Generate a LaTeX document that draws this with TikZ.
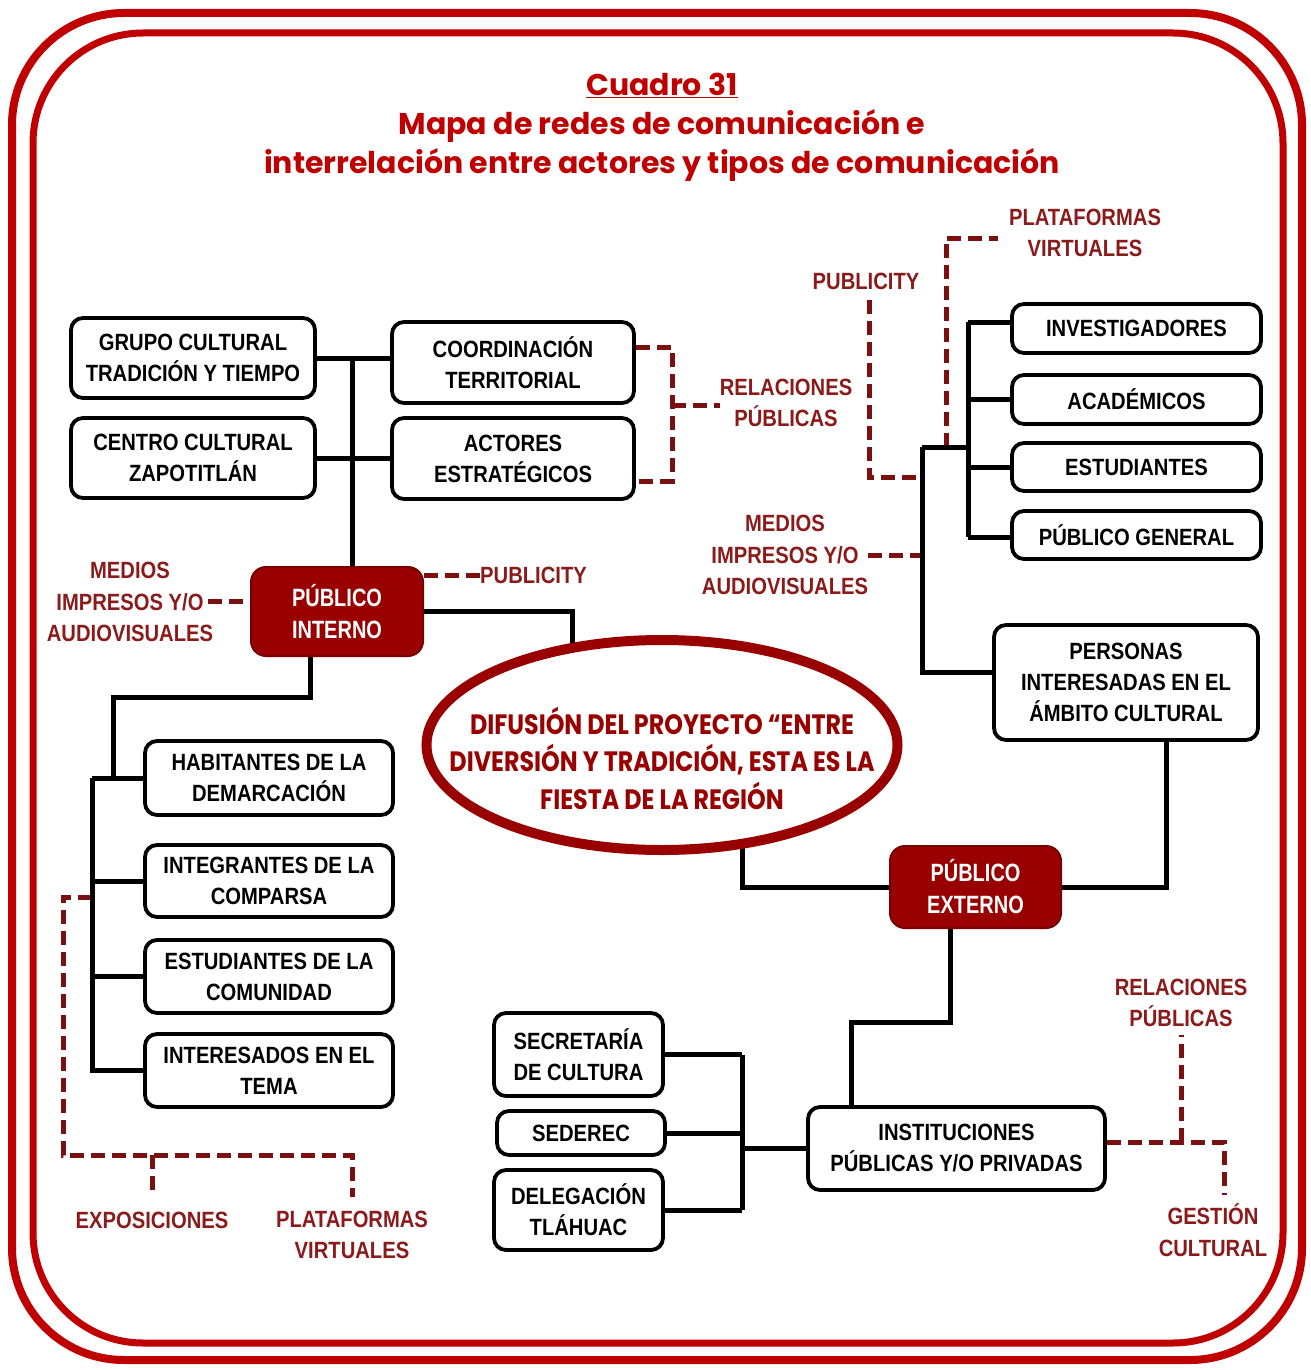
\documentclass[tikz,border=0pt]{standalone}
\usepackage{fontspec}
\setmainfont{Liberation Sans}
\newfontfamily\boxfont[FakeStretch=0.86]{Liberation Sans}
\newfontfamily\hubfont[FakeStretch=0.8]{Liberation Sans}
\newfontfamily\titlefont{Poppins}
\newfontfamily\ellfont[FakeStretch=0.85]{Poppins}
\usetikzlibrary{shapes.geometric,backgrounds}
\definecolor{frame}{HTML}{C00000}
\definecolor{wine}{HTML}{990000}
\definecolor{labelred}{HTML}{8B1A1A}
\definecolor{dashred}{HTML}{7A1010}
\begin{document}
\begin{tikzpicture}[x=1pt,y=-1pt,
  actor/.style={draw=black, line width=3.8pt, rounded corners=12pt, fill=white,
    align=center, inner sep=0pt,
    font=\boxfont\bfseries\fontsize{23.5}{31}\selectfont},
  hub/.style={draw=wine!80!black, line width=2pt, rounded corners=15pt, fill=wine,
    text=white, align=center, inner sep=0pt,
    font=\hubfont\bfseries\fontsize{25}{32}\selectfont},
  link/.style={draw=black, line width=5pt},
  medium/.style={draw=dashred, line width=5pt, dash pattern=on 14pt off 7pt},
  lbl/.style={text=labelred, align=center, inner sep=0pt,
    font=\boxfont\bfseries\fontsize{23.5}{31.5}\selectfont}
]
\useasboundingbox (0,0) rectangle (1310,1370);

% double frame
\draw[frame, line width=8pt, rounded corners=112pt] (12,13) rectangle (1302,1360);
\draw[frame, line width=7pt, rounded corners=110pt] (33,33) rectangle (1283,1343);

% title
\node[font=\titlefont\bfseries\fontsize{30}{39}\selectfont, text=frame, align=center]
  (title) at (662,127)
  {\underline{Cuadro 31}\\Mapa de redes de comunicación e\\interrelación entre actores y tipos de comunicación};

% central idea: outline and its text
\node[ellipse, draw=wine, line width=10pt, fill=white, minimum width=471pt,
  minimum height=210pt, inner sep=0pt] (ell) at (662,745) {};
\node[text=wine, align=center, inner sep=0pt,
  font=\ellfont\bfseries\fontsize{28}{37.5}\selectfont]
  (elltext) at (662,758)
  {DIFUSIÓN DEL PROYECTO “ENTRE\\DIVERSIÓN Y TRADICIÓN, ESTA ES LA\\FIESTA DE LA REGIÓN};

% internal public
\node[hub, minimum width=172pt, minimum height=89pt] (pint) at (337,611.5) {PÚBLICO\\INTERNO};
\node[actor, minimum width=244pt, minimum height=80pt] (grupo) at (193,358) {GRUPO CULTURAL\\TRADICIÓN Y TIEMPO};
\node[actor, minimum width=244pt, minimum height=80pt] (centro) at (193,458) {CENTRO CULTURAL\\ZAPOTITLÁN};
\node[actor, minimum width=242pt, minimum height=81pt] (coord) at (513,362.5) {COORDINACIÓN\\TERRITORIAL};
\node[actor, minimum width=242pt, minimum height=81pt] (actores) at (513,458.5) {ACTORES\\ESTRATÉGICOS};
\node[actor, minimum width=248pt, minimum height=74pt] (habit) at (269,778) {HABITANTES DE LA\\DEMARCACIÓN};
\node[actor, minimum width=248pt, minimum height=72pt] (integ) at (269,881) {INTEGRANTES DE LA\\COMPARSA};
\node[actor, minimum width=248pt, minimum height=73pt] (estud) at (269,976.5) {ESTUDIANTES DE LA\\COMUNIDAD};
\node[actor, minimum width=248pt, minimum height=73pt] (inter) at (269,1070.5) {INTERESADOS EN EL\\TEMA};

% external public
\node[hub, minimum width=171pt, minimum height=82pt] (pext) at (975.5,887) {PÚBLICO\\EXTERNO};
\node[actor, minimum width=264pt, minimum height=115pt] (pers) at (1126,682.5) {PERSONAS\\INTERESADAS EN EL\\ÁMBITO CULTURAL};
\node[actor, minimum width=249pt, minimum height=49pt] (inv) at (1136.5,328.5) {INVESTIGADORES};
\node[actor, minimum width=249pt, minimum height=49pt] (aca) at (1136.5,399.5) {ACADÉMICOS};
\node[actor, minimum width=249pt, minimum height=48pt] (est) at (1136.5,467) {ESTUDIANTES};
\node[actor, minimum width=249pt, minimum height=48pt] (pub) at (1136.5,535) {PÚBLICO GENERAL};
\node[actor, minimum width=297pt, minimum height=83pt] (inst) at (956.5,1148.5) {INSTITUCIONES\\PÚBLICAS Y/O PRIVADAS};
\node[actor, minimum width=169pt, minimum height=83pt] (secr) at (578.5,1054.5) {SECRETARÍA\\DE CULTURA};
\node[actor, minimum width=168pt, minimum height=44pt] (sede) at (581,1133) {SEDEREC};
\node[actor, minimum width=169pt, minimum height=80pt] (dele) at (578.5,1210) {DELEGACIÓN\\TLÁHUAC};

% communication channels
\node[lbl] (relA) at (786,403) {RELACIONES\\PÚBLICAS};
\node[lbl] (pubA) at (866,281) {PUBLICITY};
\node[lbl] (platA) at (1085,233) {PLATAFORMAS\\VIRTUALES};
\node[lbl] (medA) at (785,555) {MEDIOS\\IMPRESOS Y/O\\AUDIOVISUALES};
\node[lbl] (medB) at (130,602) {MEDIOS\\IMPRESOS Y/O\\AUDIOVISUALES};
\node[lbl, anchor=west] (pubB) at (480,575) {PUBLICITY};
\node[lbl] (expo) at (152,1220) {EXPOSICIONES};
\node[lbl] (platB) at (352,1235) {PLATAFORMAS\\VIRTUALES};
\node[lbl] (relB) at (1181,1003) {RELACIONES\\PÚBLICAS};
\node[lbl] (gest) at (1213,1230) {GESTIÓN\\CULTURAL};

% junction points
\coordinate (spine) at (352,358);
\coordinate (elltop) at (572,650);
\coordinate (pdrop) at (310,611);
\coordinate (ltop) at (113,697);
\coordinate (lbus) at (92,778);
\coordinate (ellbot) at (742,840);
\coordinate (rdrop) at (1166,700);
\coordinate (kneeA) at (950,1022);
\coordinate (kneeB) at (851,1148);
\coordinate (ibus) at (742,1054);
\coordinate (rbus) at (922,447);
\coordinate (rlow) at (922,672);
\coordinate (ubus) at (968,447);
\coordinate (utop) at (968,322);
\coordinate (ubot) at (968,537);
\coordinate (rp1) at (672,347);
\coordinate (rp2) at (672,481);
\coordinate (rpm) at (672,405);
\coordinate (mb) at (208,601);
\coordinate (pu1) at (869,300);
\coordinate (pu2) at (869,477);
\coordinate (pl1) at (946,447);
\coordinate (pl2) at (946,238);
\coordinate (pl3) at (998,238);
\coordinate (lb1) at (92,897);
\coordinate (lb2) at (63,1155);
\coordinate (lb3) at (352,1155);
\coordinate (lb4) at (352,1197);
\coordinate (ex1) at (152,1155);
\coordinate (ex2) at (152,1197);
\coordinate (g1) at (1224,1142);
\coordinate (g2) at (1224,1195);
\coordinate (r1) at (1181,1142);
\coordinate (r2) at (1181,1035);

\begin{pgfonlayer}{background}
  % dashed channels
  \draw[medium] (coord.east |- rp1) -- (rp1) -- (rp2) -- (actores.east |- rp2);
  \draw[medium] (rpm) -- (rpm -| relA.west);
  \draw[medium] (pint.east |- pubB) -- (pubB.west);
  \draw[medium] (mb) -- (mb -| pint.west);
  \draw[medium] (medA.east) -- (medA.east -| rbus);
  \draw[medium] (pu1) -- (pu2) -- (pu2 -| rbus);
  \draw[medium] (pl1) -- (pl2) -- (pl3);
  \draw[medium] (lb1) -| (lb2) -- (lb3) -- (lb4);
  \draw[medium] (ex1) -- (ex2);
  \draw[medium] (inst.east |- g1) -- (g1) -- (g2);
  \draw[medium] (r1) -- (r2);

  % internal public tree
  \draw[link] (grupo.east) -- (grupo.east -| coord.west);
  \draw[link] (centro.east) -- (centro.east -| actores.west);
  \draw[link] (spine) -- (spine |- pint);
  \draw[link] (pint) -| (elltop);
  \draw[link] (pdrop) |- (ltop) |- (habit.west);
  \draw[link] (lbus) -- (habit.west);
  \draw[link] (lbus) |- (inter.west);
  \draw[link] (lbus |- integ.west) -- (integ.west);
  \draw[link] (lbus |- estud.west) -- (estud.west);

  % external public tree
  \draw[link] (ellbot) |- (pext);
  \draw[link] (pext) -| (rdrop);
  \draw[link] (kneeA |- pext) -- (kneeA) -| (kneeB);
  \draw[link] (secr) -- (secr -| ibus);
  \draw[link] (sede) -- (sede -| ibus);
  \draw[link] (dele) -- (dele -| ibus);
  \draw[link] (ibus |- secr) -- (ibus |- dele);
  \draw[link] (ibus |- inst) -- (inst);
  \draw[link] (rbus) -- (rlow) -- (rlow -| pers);
  \draw[link] (rbus) -- (ubus);
  \draw[link] (utop) -- (ubot);
  \draw[link] (utop) -- (utop -| inv);
  \draw[link] (utop |- aca) -- (aca);
  \draw[link] (utop |- est) -- (est);
  \draw[link] (ubot) -- (ubot -| pub);
\end{pgfonlayer}
\end{tikzpicture}
\end{document}
